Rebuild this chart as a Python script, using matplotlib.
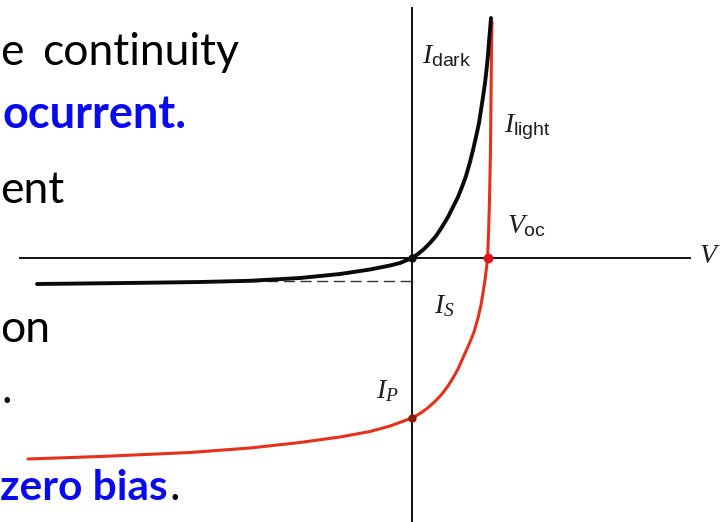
import matplotlib
matplotlib.use("Agg")
import matplotlib.pyplot as plt

plt.rcParams["mathtext.fontset"] = "custom"
plt.rcParams["mathtext.it"] = "Liberation Serif:italic"
plt.rcParams["mathtext.rm"] = "Liberation Sans"
plt.rcParams["mathtext.cal"] = "Liberation Serif"

# I-V characteristic of a photodiode (arbitrary units), dark and illuminated
v_dark = [-375, -312, -262, -212, -162, -112, -72, -42, -22, -12,
          0, 6, 12, 18, 24, 30, 36, 41, 46, 50, 54, 58, 61, 64, 67, 69, 71, 73, 74.5, 76, 77, 78, 79]
i_dark = [-26, -25.3, -24.7, -24, -22.8, -20, -16, -11.5, -7.5, -5,
          0, 4, 9, 15, 22, 31, 41, 51, 61, 71, 82, 96, 108, 121, 135, 148, 161, 175, 188, 203, 216, 228, 240]

v_light = [-384, -312, -222, -162, -112, -72, -42, -22,
           0, 8, 15, 23, 30, 36, 41, 46, 50, 54, 58, 62, 66, 69, 71, 73, 74.5, 75.5,
           76.5, 77.5, 78.5, 79, 79.5, 80]
i_light = [-201, -198.5, -194.5, -190, -184.5, -179, -173.5, -168,
           -160, -155.5, -150.5, -143.5, -136, -128, -120, -111, -102, -93, -84, -74, -60, -47, -35, -22, -10, 0,
           23, 58, 108, 158, 208, 236]

i_sat = -23      # reverse saturation current level
i_photo = -160   # short-circuit photocurrent
v_oc = 75.5      # open-circuit voltage

W, H = 722, 522
fig = plt.figure(figsize=(W / 100, H / 100), dpi=100)
ax = fig.add_axes([0, 0, 1, 1])
ax.set_xlim(-412, W - 412)
ax.set_ylim(258 - H, 258)
ax.axis("off")

# coordinate axes through the origin
ax.plot([-392, 278], [0, 0], color="#111111", lw=1.4, zorder=2)
ax.plot([0, 0], [250, 258 - H], color="#111111", lw=1.4, zorder=2)

# saturation current reference
ax.plot([-162, 0], [i_sat, i_sat], color="#333333", lw=1.0, dashes=(8, 4), zorder=2)

ax.plot(v_dark, i_dark, color="#0a0a0a", lw=2.8, solid_capstyle="round",
        solid_joinstyle="round", zorder=4)
ax.plot(v_light, i_light, color="#e5301c", lw=2.2, solid_capstyle="round",
        solid_joinstyle="round", zorder=3)

ax.plot([0], [0], "o", color="#111111", ms=5, zorder=5)
ax.plot([v_oc], [0], "o", color="#e0141a", ms=6, zorder=5)
ax.plot([0], [i_photo], "o", color="#8a1a0a", ms=5, zorder=5)

lab = dict(color="#1e1e1e", fontsize=20, va="baseline", ha="left")
ax.text(10, 258 - 63, r"$I_{\mathrm{dark}}$", **lab)
ax.text(92, 258 - 132, r"$I_{\mathrm{light}}$", **lab)
ax.text(95, 258 - 233, r"$V_{\mathrm{oc}}$", **lab)
ax.text(287, 258 - 263, r"$V$", **lab)
ax.text(22, 258 - 313, r"$I_S$", **lab)
ax.text(-36, 258 - 398, r"$I_P$", **lab)

# slide text alongside the diagram
body = dict(fontsize=32, family="Lato", va="baseline", ha="left", color="#000000")
bold = dict(fontsize=32.5, family="Lato", fontweight="bold", va="baseline", ha="left", color="#0a0aef")
ax.text(-412 + 0, 258 - 65, "e", **body)
ax.text(-412 + 42, 258 - 65, "continuity", **body)
ax.text(-412 + 2, 258 - 128, "ocurrent.", **bold)
ax.text(-412 + 0, 258 - 203, "ent", **body)
ax.text(-412 + 0, 258 - 342, "on", **body)
ax.text(-412 + 2, 258 - 403, ".", **body)
bold_z = dict(bold, fontsize=30.5)
t = ax.text(-412 + 0, 258 - 500, "zero bias", **bold_z)
ax.annotate(".", xy=(1, 258 - 500), xycoords=(t, "data"), xytext=(1, 0),
            textcoords="offset points", fontsize=32, family="Lato",
            va="baseline", ha="left", color="#000000")

fig.savefig("out.png", dpi=100)
